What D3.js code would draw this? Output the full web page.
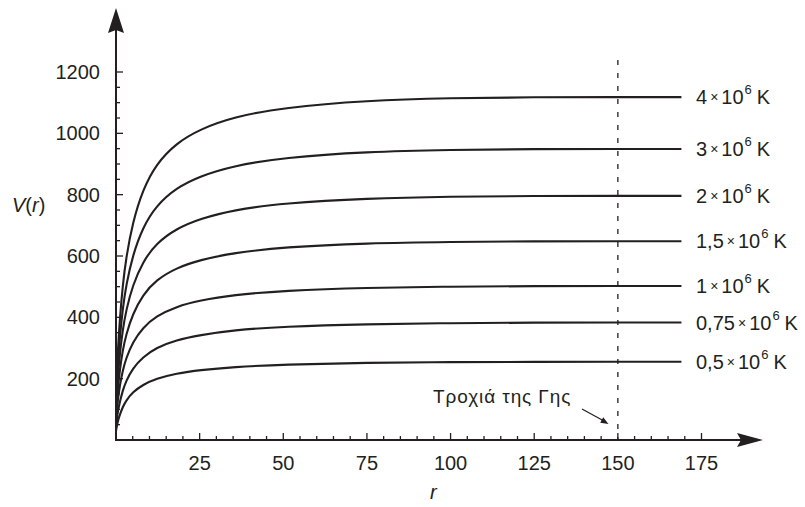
<!DOCTYPE html>
<html>
<head>
<meta charset="utf-8">
<script src="https://cdn.jsdelivr.net/npm/d3@7/dist/d3.min.js"></script>
<style>
  html, body { margin: 0; padding: 0; background: #fff; }
  svg text { font-family: "Liberation Sans", Arial, Helvetica, sans-serif; fill: #231f20; }
</style>
</head>
<body>
<svg id="chart" width="805" height="507"></svg>
<script>
// Radial distance samples (r) shared by all curves
const radii = [0, 0.2, 0.6, 1.2, 2, 3, 5, 8, 12, 18, 25, 35, 50, 75, 100, 125, 150, 169];

// Speed V(r) for each coronal temperature
const v05  = [30, 43, 64, 84, 107, 128, 156, 180, 200, 217, 228, 238, 246, 252, 254, 255, 255, 255];
const v075 = [35, 65, 96, 126, 161, 192, 234, 270, 301, 326, 342, 358, 370, 378, 381, 383, 383, 383];
const v1   = [40, 90, 136, 181, 226, 266, 319, 366, 404, 435, 455, 473, 487, 497, 500, 502, 502, 502];
const v15  = [45, 117, 175, 233, 292, 343, 411, 473, 522, 561, 587, 610, 629, 642, 646, 648, 648, 648];
const v2   = [50, 143, 215, 287, 358, 422, 505, 581, 641, 689, 721, 750, 772, 788, 794, 796, 796, 796];
const v3   = [55, 171, 256, 342, 427, 503, 603, 693, 764, 822, 860, 894, 921, 940, 946, 949, 949, 949];
const v4   = [60, 201, 302, 402, 503, 593, 710, 816, 900, 968, 1013, 1053, 1084, 1107, 1115, 1118, 1118, 1118];

const seriesValues = [v4, v3, v2, v15, v1, v075, v05];
// Temperature labels: mantissa before "×10^6 K"
const seriesLabels = ["4", "3", "2", "1,5", "1", "0,75", "0,5"];

const xTickValues = [25, 50, 75, 100, 125, 150, 175];
const yTickValues = [200, 400, 600, 800, 1000, 1200];
const earthOrbit = 150;
const orbitLabel = "Τροχιά της Γης";

const svg = d3.select("#chart");
const ink = "#231f20";

const x = d3.scaleLinear().domain([0, 175]).range([116, 701.5]);
const y = d3.scaleLinear().domain([0, 1200]).range([440, 72]);

// Curves
const line = d3.line()
  .x(d => x(d[0]))
  .y(d => y(d[1]))
  .curve(d3.curveBasis);

seriesValues.forEach(vals => {
  svg.append("path")
    .datum(radii.map((r, i) => [r, vals[i]]))
    .attr("d", line)
    .attr("fill", "none")
    .attr("stroke", ink)
    .attr("stroke-width", 2.1)
    .attr("stroke-linejoin", "round");
});

// Earth orbit marker
svg.append("line")
  .attr("x1", x(earthOrbit)).attr("x2", x(earthOrbit))
  .attr("y1", 60).attr("y2", y(0))
  .attr("stroke", ink)
  .attr("stroke-width", 1.3)
  .attr("stroke-dasharray", "5,8");

// Axes lines
svg.append("line")
  .attr("x1", x(0)).attr("x2", 745)
  .attr("y1", y(0)).attr("y2", y(0))
  .attr("stroke", ink).attr("stroke-width", 2);
svg.append("line")
  .attr("x1", x(0)).attr("x2", x(0))
  .attr("y1", y(0) + 1).attr("y2", 28)
  .attr("stroke", ink).attr("stroke-width", 2);

// Arrow heads
const x0 = x(0), y0 = y(0);
svg.append("path")
  .attr("d", `M${x0},8 L${x0 + 8},33 L${x0},30 L${x0 - 8},33 Z`)
  .attr("fill", ink);
svg.append("path")
  .attr("d", `M763,${y0} L737,${y0 - 7} L741,${y0} L737,${y0 + 7} Z`)
  .attr("fill", ink);

// Y ticks: major every 200, minor every 50
d3.range(50, 1201, 50).forEach(v => {
  const major = v % 200 === 0;
  svg.append("line")
    .attr("x1", x0).attr("x2", x0 + (major ? 7 : 4))
    .attr("y1", y(v)).attr("y2", y(v))
    .attr("stroke", ink).attr("stroke-width", 1.3);
});
// X ticks: major every 25, minor every 5
d3.range(5, 176, 5).forEach(v => {
  const major = v % 25 === 0;
  svg.append("line")
    .attr("x1", x(v)).attr("x2", x(v))
    .attr("y1", y0).attr("y2", y0 - (major ? 7 : 4))
    .attr("stroke", ink).attr("stroke-width", 1.3);
});

// Tick labels
svg.selectAll(".ylab").data(yTickValues).enter().append("text")
  .attr("x", 100).attr("y", d => y(d) + 7)
  .attr("text-anchor", "end")
  .attr("font-size", 20)
  .text(d => d);
svg.selectAll(".xlab").data(xTickValues).enter().append("text")
  .attr("x", d => x(d)).attr("y", 470)
  .attr("text-anchor", "middle")
  .attr("font-size", 20)
  .text(d => d);

// Axis titles
const vt = svg.append("text").attr("x", 12).attr("y", 212).attr("font-size", 20);
vt.append("tspan").attr("font-style", "italic").text("V");
vt.append("tspan").text("(");
vt.append("tspan").attr("font-style", "italic").text("r");
vt.append("tspan").text(")");
svg.append("text")
  .attr("x", 430).attr("y", 499)
  .attr("font-size", 20)
  .attr("font-style", "italic")
  .text("r");

// Temperature labels at the right end of each curve
seriesValues.forEach((vals, i) => {
  const yy = y(vals[vals.length - 1]) + 7;
  const t = svg.append("text").attr("x", 696).attr("y", yy).attr("font-size", 20);
  t.append("tspan").text(seriesLabels[i]);
  t.append("tspan").attr("font-size", 14).attr("dx", 3).attr("dy", -2).text("×");
  t.append("tspan").attr("font-size", 20).attr("dx", 3).attr("dy", 2).text("10");
  t.append("tspan").attr("font-size", 13).attr("dx", 1).attr("dy", -10).text("6");
  t.append("tspan").attr("font-size", 20).attr("dx", 5).attr("dy", 10).text("K");
});

// Earth orbit annotation
svg.append("text")
  .attr("x", 433).attr("y", 403)
  .attr("font-size", 19)
  .attr("letter-spacing", 0.9)
  .text(orbitLabel);
svg.append("line")
  .attr("x1", 582).attr("y1", 409)
  .attr("x2", 604).attr("y2", 421)
  .attr("stroke", ink).attr("stroke-width", 1.2);
svg.append("path")
  .attr("d", "M608.5,424 L600.2,422.8 L603.2,417.3 Z")
  .attr("fill", ink);
</script>
</body>
</html>
